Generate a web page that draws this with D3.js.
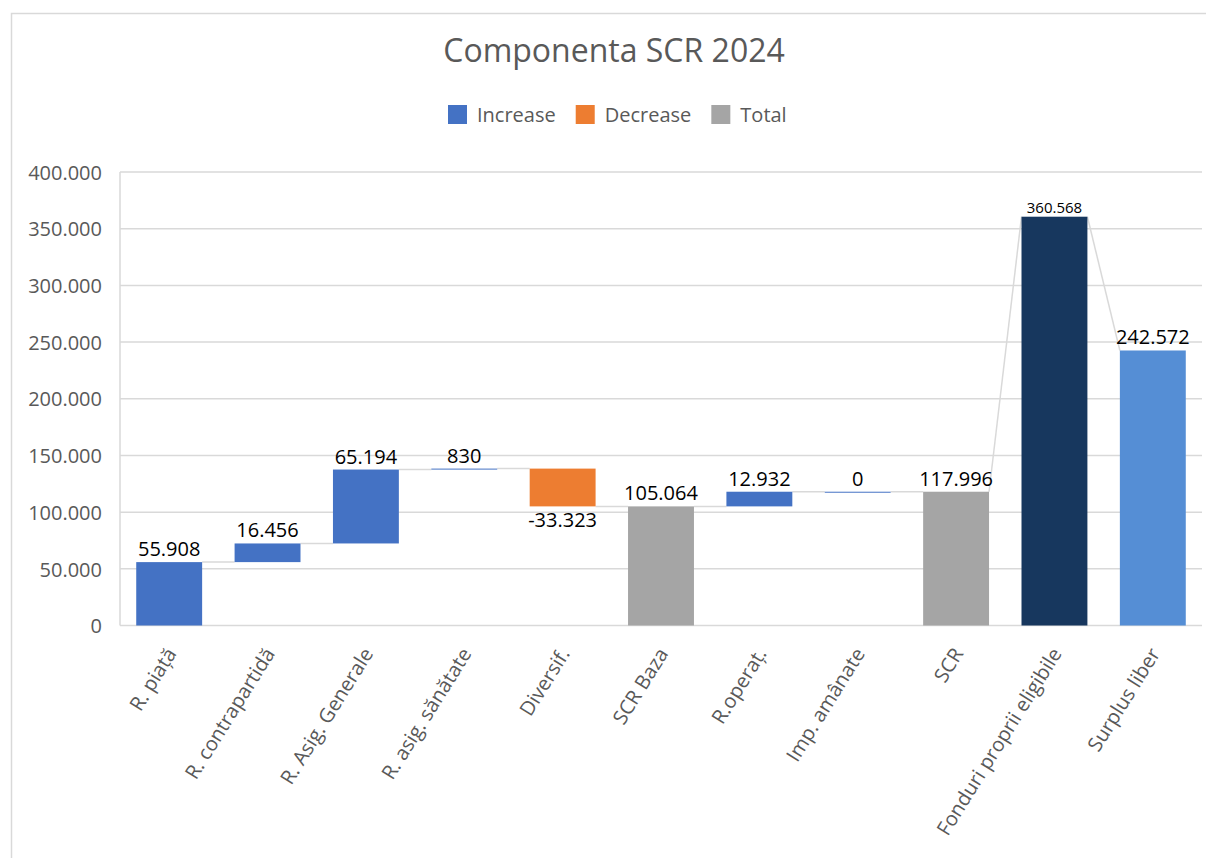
<!DOCTYPE html>
<html>
<head>
<meta charset="utf-8">
<script src="https://cdn.jsdelivr.net/npm/d3@7/dist/d3.min.js"></script>
<style>
  html, body { margin: 0; padding: 0; background: #fff; }
  svg { display: block; font-family: "Open Sans", sans-serif; }
</style>
</head>
<body>
<svg id="chart" width="1206" height="858"></svg>
<script>
// Waterfall data: SCR components 2024
const categories = [
  "R. piață", "R. contrapartidă", "R. Asig. Generale", "R. asig. sănătate",
  "Diversif.", "SCR Baza", "R.operaț.", "Imp. amânate", "SCR",
  "Fonduri proprii eligibile", "Surplus liber"
];
const values = [55908, 16456, 65194, 830, -33323, 105064, 12932, 0, 117996, 360568, 242572];
// "step" bars float on the running total; the others start at zero
const kinds = ["step", "step", "step", "step", "step", "total", "step", "step", "total", "funds", "surplus"];
const yTicks = [0, 50000, 100000, 150000, 200000, 250000, 300000, 350000, 400000];
const legendItems = ["Increase", "Decrease", "Total"];

const colors = {
  Increase: "#4472C4",
  Decrease: "#ED7D31",
  Total: "#A5A5A5",
  funds: "#17375E",
  surplus: "#558ED5"
};

const ro = d3.formatLocale({ decimal: ",", thousands: ".", grouping: [3], currency: ["", " lei"] });
const fmt = ro.format(",d");

const svg = d3.select("#chart");

// outer chart frame
svg.append("rect")
  .attr("x", 11.5).attr("y", 13.5)
  .attr("width", 1206).attr("height", 858)
  .attr("fill", "#fff").attr("stroke", "#D9D9D9").attr("stroke-width", 1.5);

const plot = { left: 120, right: 1202, top: 172, bottom: 625.5 };

const x = d3.scaleBand()
  .domain(categories)
  .range([plot.left, plot.right])
  .paddingInner(0.33)
  .paddingOuter(0.165);

const y = d3.scaleLinear()
  .domain([0, 400000])
  .range([plot.bottom, plot.top]);

// bar extents from the running total
let running = 0;
const bars = categories.map((c, i) => {
  const v = values[i];
  const k = kinds[i];
  let start, end, color;
  if (k === "step") {
    start = running; end = running + v; running = end;
    color = v < 0 ? colors.Decrease : colors.Increase;
  } else {
    start = 0; end = v; running = v;
    color = k === "total" ? colors.Total : colors[k];
  }
  return { c, v, k, start, end, color };
});

// gridlines
svg.append("g")
  .selectAll("line")
  .data(yTicks)
  .join("line")
  .attr("x1", plot.left).attr("x2", plot.right)
  .attr("y1", d => y(d)).attr("y2", d => y(d))
  .attr("stroke", "#D9D9D9").attr("stroke-width", 1.5);

// value axis line
svg.append("line")
  .attr("x1", plot.left).attr("x2", plot.left)
  .attr("y1", y(400000)).attr("y2", plot.bottom)
  .attr("stroke", "#D9D9D9").attr("stroke-width", 1.5);

// y axis labels
const yAxis = d3.axisLeft(y).tickValues(yTicks).tickFormat(fmt).tickSize(0).tickPadding(18);
const yg = svg.append("g").attr("transform", `translate(${plot.left},0)`).call(yAxis);
yg.select(".domain").remove();
yg.selectAll("text")
  .attr("font-family", "Open Sans, sans-serif")
  .attr("font-size", 20)
  .attr("fill", "#595959")
  .attr("dy", "0.36em");

// connectors between consecutive bars
const connectors = [];
for (let i = 0; i < bars.length - 1; i++) {
  const a = bars[i], b = bars[i + 1];
  const target = b.k === "step" ? b.start : b.end;
  connectors.push({ x1: x(a.c) + x.bandwidth(), y1: a.end, x2: x(b.c), y2: target });
}
svg.append("g")
  .selectAll("line")
  .data(connectors)
  .join("line")
  .attr("x1", d => d.x1).attr("x2", d => d.x2)
  .attr("y1", d => y(d.y1)).attr("y2", d => y(d.y2))
  .attr("stroke", "#D9D9D9").attr("stroke-width", 1.5);

// bars
svg.append("g")
  .selectAll("rect")
  .data(bars)
  .join("rect")
  .attr("x", d => x(d.c))
  .attr("width", x.bandwidth())
  .attr("y", d => Math.min(y(d.start), y(d.end)))
  .attr("height", d => Math.max(1, Math.abs(y(d.start) - y(d.end))))
  .attr("fill", d => d.color);

// data labels
svg.append("g")
  .selectAll("text")
  .data(bars)
  .join("text")
  .attr("x", d => x(d.c) + x.bandwidth() / 2)
  .attr("y", d => {
    if (d.v < 0) return y(d.end) + 21;
    const top = y(Math.max(d.start, d.end));
    return d.k === "funds" ? top - 4 : top - 6;
  })
  .attr("text-anchor", "middle")
  .attr("font-size", d => d.k === "funds" ? 15 : 20)
  .attr("fill", "#000")
  .text(d => fmt(d.v).replace("−", "-"));

// category labels, rotated
svg.append("g")
  .selectAll("text")
  .data(categories)
  .join("text")
  .attr("transform", d => `translate(${x(d) + x.bandwidth() / 2 + 8},${plot.bottom + 28}) rotate(-58)`)
  .attr("text-anchor", "end")
  .attr("font-size", 20)
  .attr("fill", "#595959")
  .text(d => d);

// title
svg.append("text")
  .attr("x", 614).attr("y", 62)
  .attr("text-anchor", "middle")
  .attr("font-size", 32)
  .attr("fill", "#595959")
  .text("Componenta SCR 2024");

// legend
const legend = svg.append("g");
let lx = 448;
legendItems.forEach(name => {
  const g = legend.append("g").attr("transform", `translate(${lx},0)`);
  g.append("rect").attr("x", 0).attr("y", 105).attr("width", 19).attr("height", 19).attr("fill", colors[name]);
  const t = g.append("text").attr("x", 29).attr("y", 122).attr("font-size", 20).attr("fill", "#595959").text(name);
  lx += 29 + t.node().getComputedTextLength() + 20;
});
</script>
</body>
</html>
